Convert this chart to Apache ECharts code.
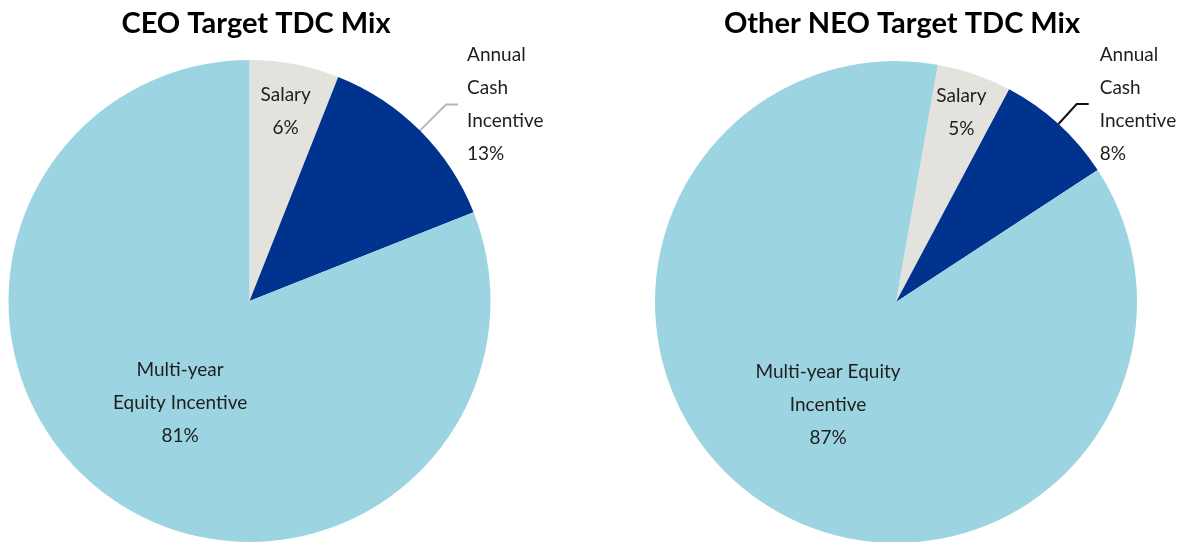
<!DOCTYPE html>
<html>
<head>
<meta charset="utf-8">
<script src="https://cdn.jsdelivr.net/npm/echarts@6.0.0/dist/echarts.min.js"></script>
<style>
html,body{margin:0;padding:0;background:#ffffff;}
#chart{width:1185px;height:542px;}
</style>
</head>
<body>
<div id="chart"></div>
<script>
// ---- data ----
const titles = ['CEO Target TDC Mix', 'Other NEO Target TDC Mix'];
const ceoCategories = ['Salary', 'Annual\nCash\nIncentive', 'Multi-year\nEquity Incentive'];
const ceoValues = [6, 13, 81];
const neoCategories = ['Salary', 'Annual\nCash\nIncentive', 'Multi-year Equity\nIncentive'];
const neoValues = [5, 8, 87];

// ---- styles ----
const FONT = 'Lato, "Open Sans", sans-serif';
const COLORS = ['#E4E2DD', '#00338D', '#9DD4E2'];
const R = 241;
const LABEL_SIZE = 19;

function mainSeries(cats, vals, center, startAngle, lineColor, len1, len2, dist) {
  return {
    type: 'pie',
    center: center,
    radius: [0, R],
    startAngle: startAngle,
    clockwise: true,
    avoidLabelOverlap: false,
    silent: true,
    emphasis: { disabled: true },
    itemStyle: { borderWidth: 0 },
    label: {
      formatter: '{b}\n{c}%',
      fontFamily: FONT,
      fontSize: LABEL_SIZE,
      lineHeight: 33,
      color: '#1e1e1e',
      distanceToLabelLine: dist
    },
    labelLine: {
      length: len1,
      length2: len2,
      smooth: false,
      lineStyle: { color: lineColor, width: 2 }
    },
    data: cats.map(function (n, i) {
      return {
        name: n,
        value: vals[i],
        itemStyle: { color: COLORS[i] },
        label: i === 1 ? { show: true, position: 'outside' }
             : i === 2 ? { show: true, position: 'inside' }
             : { show: false },
        labelLine: { show: i === 1 }
      };
    })
  };
}

function salaryLabelSeries(cats, vals, center, startAngle, r0, r1) {
  return {
    type: 'pie',
    center: center,
    radius: [r0, r1],
    startAngle: startAngle,
    clockwise: true,
    avoidLabelOverlap: false,
    silent: true,
    z: 5,
    emphasis: { disabled: true },
    itemStyle: { color: 'rgba(0,0,0,0)', borderWidth: 0 },
    label: {
      formatter: '{b}\n{c}%',
      fontFamily: FONT,
      fontSize: LABEL_SIZE,
      lineHeight: 33,
      color: '#1e1e1e'
    },
    labelLine: { show: false },
    data: cats.map(function (n, i) {
      return {
        name: n,
        value: vals[i],
        label: i === 0 ? { show: true, position: 'inside' } : { show: false }
      };
    })
  };
}

const chart = echarts.init(document.getElementById('chart'), null, { renderer: 'canvas' });
chart.setOption({
  backgroundColor: '#ffffff',
  animation: false,
  title: [
    { text: titles[0], left: 251, top: 4, textAlign: 'center',
      textStyle: { fontFamily: FONT, fontSize: 29, fontWeight: 'bold', color: '#000' } },
    { text: titles[1], left: 897, top: 4, textAlign: 'center',
      textStyle: { fontFamily: FONT, fontSize: 29, fontWeight: 'bold', color: '#000' } }
  ],
  series: [
    mainSeries(ceoCategories, ceoValues, [249.5, 301], 90, '#B8B8B0', 37, 12, 9),
    salaryLabelSeries(ceoCategories, ceoValues, [249.5, 301], 90, 160, 220),
    mainSeries(neoCategories, neoValues, [896, 302], 80, '#111111', 27, 12, 11),
    salaryLabelSeries(neoCategories, neoValues, [896, 302], 80, 170, 226)
  ]
});
</script>
</body>
</html>
